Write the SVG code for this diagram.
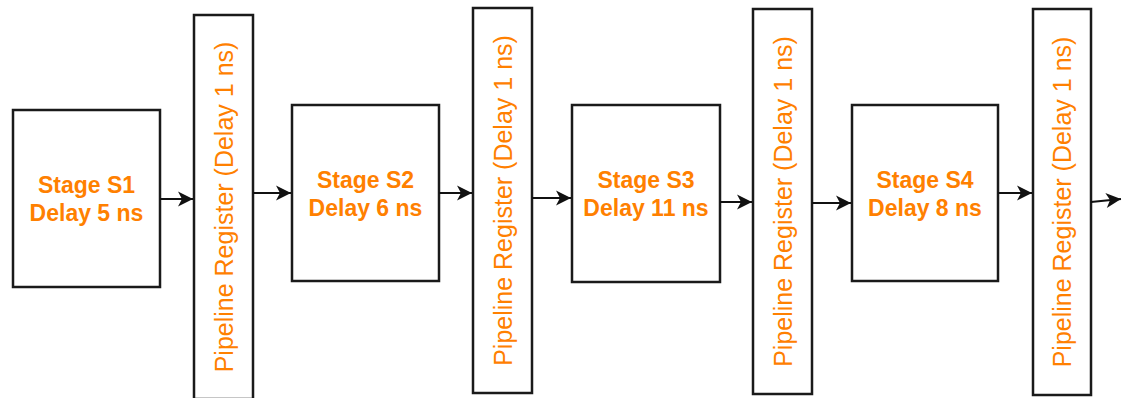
<svg xmlns="http://www.w3.org/2000/svg" width="1122" height="398" viewBox="0 0 1122 398">
  <style>
    .box { fill: #ffffff; stroke: #1a1a1a; stroke-width: 2.5; }
    .stage { font-family: "Liberation Sans", Arial, sans-serif; font-weight: bold; font-size: 23px; fill: #ff8000; text-anchor: middle; }
    .reg { font-family: "Liberation Sans", Arial, sans-serif; font-size: 25px; fill: #ff8000; text-anchor: middle; dominant-baseline: central; }
    .wire { fill: none; stroke: #111111; stroke-width: 2; marker-end: url(#arrow); }
  </style>
  <defs>
    <marker id="arrow" markerUnits="userSpaceOnUse" markerWidth="18" markerHeight="18" viewBox="0 0 18 18" refX="16" refY="9" orient="auto">
      <path d="M1,1.5 L16,9 L1,16.5 L5,9 Z" fill="#111111"/>
    </marker>
  </defs>
  <rect width="1122" height="398" fill="#ffffff"/>

  <!-- pipeline stages -->
  <g id="stage-s1">
    <rect class="box" x="13" y="110" width="147" height="177"/>
    <text class="stage" x="86.5" y="193">Stage S1</text>
    <text class="stage" x="86.5" y="221">Delay 5 ns</text>
  </g>
  <g id="stage-s2">
    <rect class="box" x="292" y="105" width="147" height="176"/>
    <text class="stage" x="365.5" y="188">Stage S2</text>
    <text class="stage" x="365.5" y="216">Delay 6 ns</text>
  </g>
  <g id="stage-s3">
    <rect class="box" x="572" y="105" width="148" height="177"/>
    <text class="stage" x="646" y="188">Stage S3</text>
    <text class="stage" x="646" y="216">Delay 11 ns</text>
  </g>
  <g id="stage-s4">
    <rect class="box" x="852" y="105" width="146" height="176"/>
    <text class="stage" x="925" y="188">Stage S4</text>
    <text class="stage" x="925" y="216">Delay 8 ns</text>
  </g>

  <!-- pipeline registers -->
  <g id="register-1">
    <rect class="box" x="194" y="15" width="59" height="384"/>
    <text class="reg" transform="translate(223.5,207) rotate(-90)">Pipeline Register (Delay 1 ns)</text>
  </g>
  <g id="register-2">
    <rect class="box" x="473" y="8" width="59" height="385"/>
    <text class="reg" transform="translate(502.5,200.5) rotate(-90)">Pipeline Register (Delay 1 ns)</text>
  </g>
  <g id="register-3">
    <rect class="box" x="753" y="9" width="59" height="385"/>
    <text class="reg" transform="translate(782.5,201.5) rotate(-90)">Pipeline Register (Delay 1 ns)</text>
  </g>
  <g id="register-4">
    <rect class="box" x="1033" y="9" width="58" height="386"/>
    <text class="reg" transform="translate(1062,202) rotate(-90)">Pipeline Register (Delay 1 ns)</text>
  </g>

  <!-- connectors -->
  <g id="connectors">
    <path class="wire" d="M160,199 L193,199"/>
    <path class="wire" d="M253,193 L291,193"/>
    <path class="wire" d="M439,193 L472,193"/>
    <path class="wire" d="M532,198 L571,198"/>
    <path class="wire" d="M720,202 L752,202"/>
    <path class="wire" d="M812,203 L851,203"/>
    <path class="wire" d="M998,193 L1032,193"/>
    <path class="wire" d="M1091,202 L1121,199"/>
  </g>
</svg>
